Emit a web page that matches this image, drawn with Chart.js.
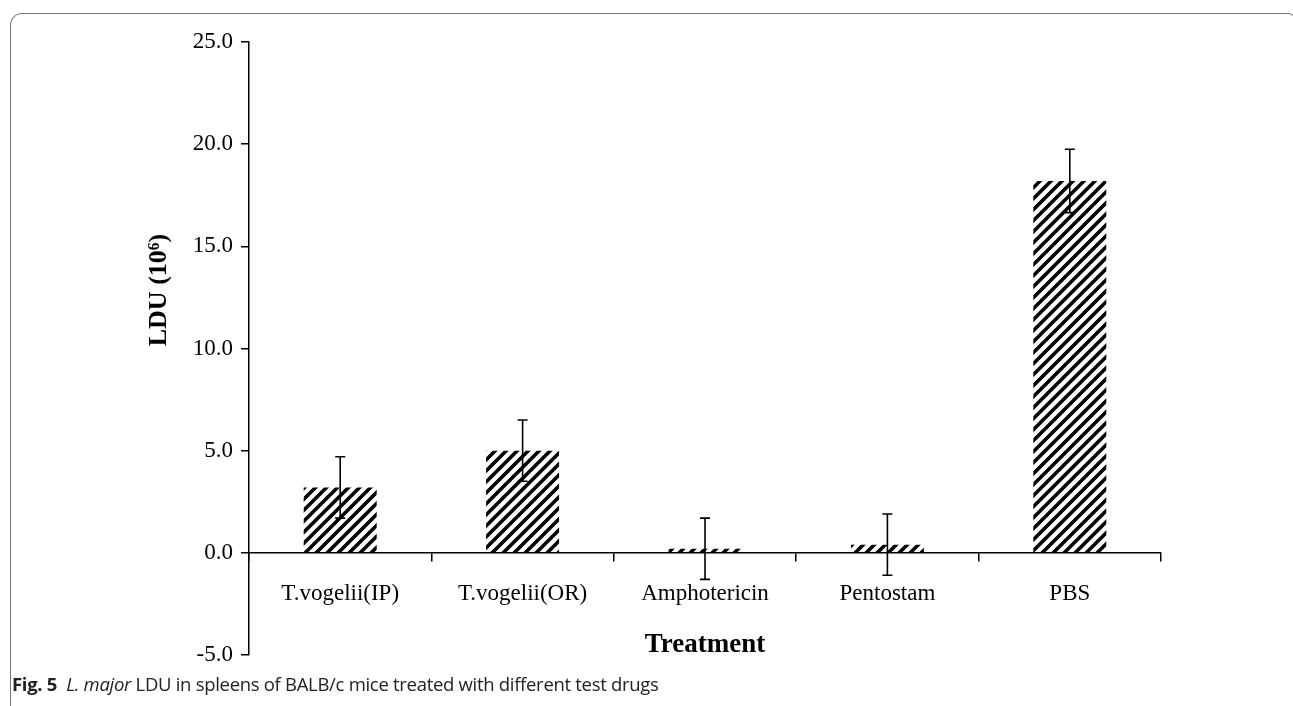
<!DOCTYPE html>
<html>
<head>
<meta charset="utf-8">
<script src="https://cdn.jsdelivr.net/npm/chart.js@4/dist/chart.umd.min.js"></script>
<style>
  html, body { margin: 0; padding: 0; background: #fff; }
  #wrap { position: relative; width: 1293px; height: 706px; overflow: hidden; }
  #frame {
    position: absolute; left: 10px; top: 13px; width: 1284px; height: 720px;
    border-left: 1.5px solid #777; border-top: 1.5px solid #777;
    border-right: 1.5px solid #777; border-radius: 12px 8px 0 0;
  }
  #chart { position: absolute; left: 0; top: 0; }
  #caption {
    position: absolute; left: 12px; top: 671px;
    font-family: "Open Sans", "Noto Sans", sans-serif; font-size: 18.5px; color: #222;
    white-space: nowrap; letter-spacing: -0.3px;
  }
</style>
</head>
<body>
<div id="wrap">
  <div id="frame"></div>
  <canvas id="chart" width="1293" height="706"></canvas>
  <div id="caption"><b>Fig. 5</b>&nbsp; <i>L. major</i> LDU in spleens of BALB/c mice treated with different test drugs</div>
</div>
<script>
// data
const treatments = ['T.vogelii(IP)', 'T.vogelii(OR)', 'Amphotericin', 'Pentostam', 'PBS'];
const ldu = [3.2, 5.0, 0.2, 0.4, 18.2];
const lduErr = [1.5, 1.5, 1.5, 1.5, 1.55];
const yTicks = [-5, 0, 5, 10, 15, 20, 25];

function makeHatch() {
  const s = 11;
  const c = document.createElement('canvas');
  c.width = s; c.height = s;
  const g = c.getContext('2d');
  g.fillStyle = '#fff';
  g.fillRect(0, 0, s, s);
  g.strokeStyle = '#000';
  g.lineWidth = 3.6;
  g.beginPath();
  g.moveTo(-2, s + 2); g.lineTo(s + 2, -2);
  g.moveTo(-2, 2); g.lineTo(2, -2);
  g.moveTo(s - 2, s + 2); g.lineTo(s + 2, s - 2);
  g.stroke();
  return document.getElementById('chart').getContext('2d').createPattern(c, 'repeat');
}

const errorBars = {
  id: 'errorBars',
  afterDatasetsDraw(chart) {
    const ctx = chart.ctx;
    const y = chart.scales.y;
    const meta = chart.getDatasetMeta(0);
    ctx.save();
    ctx.strokeStyle = '#000';
    ctx.lineWidth = 1.6;
    meta.data.forEach((bar, i) => {
      const top = y.getPixelForValue(ldu[i] + lduErr[i]);
      const bot = y.getPixelForValue(ldu[i] - lduErr[i]);
      ctx.beginPath();
      ctx.moveTo(bar.x, top); ctx.lineTo(bar.x, bot);
      ctx.moveTo(bar.x - 5, top); ctx.lineTo(bar.x + 5, top);
      ctx.moveTo(bar.x - 5, bot); ctx.lineTo(bar.x + 5, bot);
      ctx.stroke();
    });
    ctx.restore();
  }
};

const serif = '"Liberation Serif", "Times New Roman", serif';

new Chart(document.getElementById('chart'), {
  type: 'bar',
  data: {
    labels: treatments,
    datasets: [{
      data: ldu,
      backgroundColor: makeHatch(),
      borderWidth: 0,
      barPercentage: 0.8,
      categoryPercentage: 0.5
    }]
  },
  options: {
    responsive: false,
    animation: false,
    layout: { padding: { left: 0, top: 42, right: 132, bottom: 51 } },
    plugins: { legend: { display: false }, tooltip: { enabled: false } },
    scales: {
      x: {
        position: { y: 0 },
        offset: true,
        border: { color: '#000', width: 1.5 },
        grid: { offset: true, drawOnChartArea: false, color: '#000', lineWidth: 1.5, tickLength: 8 },
        ticks: { color: '#000', font: { family: serif, size: 23 }, padding: 19, maxRotation: 0 },
        title: { display: true, text: 'Treatment', color: '#000', font: { family: serif, size: 27, weight: 'bold' }, padding: { top: 2 } }
      },
      y: {
        min: -5, max: 25,
        afterBuildTicks(scale) { scale.ticks = yTicks.map(v => ({ value: v })); },
        afterFit(scale) { scale.width = 249; },
        border: { color: '#000', width: 1.5 },
        grid: { drawOnChartArea: false, color: '#000', lineWidth: 1.5, tickLength: 8 },
        ticks: { color: '#000', font: { family: serif, size: 23 }, padding: 8, callback: v => v.toFixed(1) },
        title: {
          display: true,
          text: '\u00A0'.repeat(18) + 'LDU (10⁶)',
          color: '#000', font: { family: serif, size: 26, weight: 'bold' },
          padding: { top: 144, bottom: 0 }
        }
      }
    }
  },
  plugins: [errorBars]
});
</script>
</body>
</html>
